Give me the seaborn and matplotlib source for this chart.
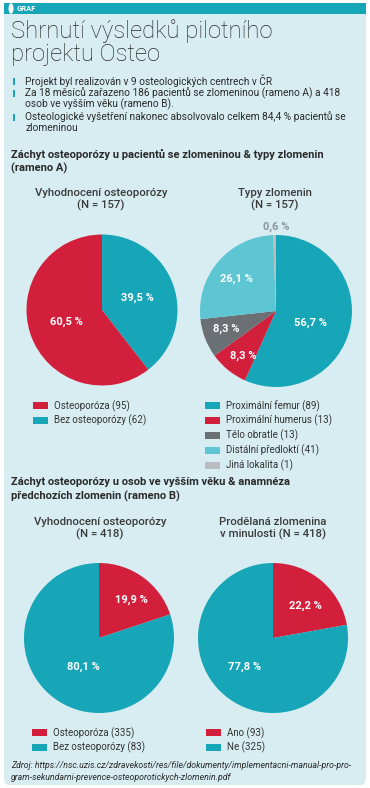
import seaborn as sns
import matplotlib.pyplot as plt
from matplotlib.patches import FancyBboxPatch, Rectangle, Circle
import matplotlib.font_manager as fm

# data
a1_labels = ['Bez osteoporózy (62)', 'Osteoporóza (95)']
a1_values = [39.5, 60.5]
a2_labels = ['Proximální femur (89)', 'Proximální humerus (13)', 'Tělo obratle (13)',
             'Distální předloktí (41)', 'Jiná lokalita (1)']
a2_values = [56.7, 8.3, 8.3, 26.1, 0.6]
b1_labels = ['Osteoporóza (335)', 'Bez osteoporózy (83)']
b1_values = [19.9, 80.1]
b2_labels = ['Ano (93)', 'Ne (325)']
b2_values = [22.2, 77.8]

RED = '#d21f3c'
TEAL = '#17a5b8'
GRAY = '#6b7075'
LTEAL = '#5ec5d3'
LGRAY = '#b9bdbf'
BG = '#d8edf1'
TXT = '#2a2a2a'

sns.set_theme(style='white')
names = {f.name for f in fm.fontManager.ttflist}
fam = [f for f in ['Liberation Sans Narrow', 'Roboto', 'DejaVu Sans'] if f in names]
plt.rcParams['font.family'] = fam

W, H = 370, 788
fig = plt.figure(figsize=(W / 100, H / 100), dpi=100)
fig.patch.set_facecolor('white')


def fx(x):
    return x / W


def fy(y):
    return 1 - y / H


def T(x, y, s, **kw):
    kw.setdefault('color', TXT)
    kw.setdefault('va', 'center')
    fig.text(fx(x), fy(y), s, **kw)


# card background and header bar
fig.patches.append(FancyBboxPatch((fx(4), fy(785)), fx(362), (781 - 3) / H,
                                  boxstyle='round,pad=0,rounding_size=0.012',
                                  transform=fig.transFigure, fc=BG, ec='none', zorder=-2))
fig.patches.append(Rectangle((fx(4), fy(14)), fx(362), 11 / H, transform=fig.transFigure,
                             fc=TEAL, ec='none', zorder=-1))
fig.patches.append(Circle((fx(11), fy(8.5)), 2.5 / W, transform=fig.transFigure,
                          fc='white', ec='none', zorder=-1))
T(17, 8.5, 'GRAF', color='white', fontsize=5.5, fontweight='bold')

T(11, 31, 'Shrnutí výsledků pilotního', fontsize=17.2, family=['Roboto', 'DejaVu Sans'],
  fontweight='light')
T(11, 55, 'projektu Osteo', fontsize=17.2, family=['Roboto', 'DejaVu Sans'], fontweight='light')

bullets = [(81, 'Projekt byl realizován v 9 osteologických centrech v ČR'),
           (93, 'Za 18 měsíců zařazeno 186 pacientů se zlomeninou (rameno A) a 418'),
           (104, 'osob ve vyšším věku (rameno B).'),
           (117, 'Osteologické vyšetření nakonec absolvovalo celkem 84,4 % pacientů se'),
           (128, 'zlomeninou')]
for i, (y, s) in enumerate(bullets):
    if i in (0, 1, 3):
        fig.patches.append(Rectangle((fx(13), fy(y + 3.5)), fx(2), 7 / H,
                                     transform=fig.transFigure, fc=TEAL, ec='none',
                                     zorder=-1))
    T(25, y, s, fontsize=7.3)

T(11, 154, 'Záchyt osteoporózy u pacientů se zlomeninou & typy zlomenin', fontsize=8.05,
  fontweight='bold')
T(11, 168, '(rameno A)', fontsize=8.05, fontweight='bold')
T(11, 482, 'Záchyt osteoporózy u osob ve vyšším věku & anamnéza', fontsize=8.05,
  fontweight='bold')
T(11, 496, 'předchozích zlomenin (rameno B)', fontsize=8.05, fontweight='bold')

for x, y, s in [(101, 193, 'Vyhodnocení osteoporózy'), (101, 205, '(N = 157)'),
                (275, 193, 'Typy zlomenin'), (275, 205, '(N = 157)'),
                (100, 522, 'Vyhodnocení osteoporózy'), (100, 534, '(N = 418)'),
                (273, 522, 'Prodělaná zlomenina'), (273, 534, 'v minulosti (N = 418)')]:
    T(x, y, s, fontsize=8.2, fontweight='medium', ha='center', color='#3a3a3a')


def pie_ax(cx, cy, r, values, colors):
    ax = fig.add_axes([fx(cx - r), fy(cy + r), 2 * r / W, 2 * r / H])
    wedges, _ = ax.pie(values, colors=colors, startangle=90, counterclock=False,
                       wedgeprops=dict(linewidth=0), radius=1)
    ax.set_xlim(-1, 1)
    ax.set_ylim(-1, 1)
    ax.set_aspect('equal')
    ax.axis('off')
    return wedges


def pct(v):
    return f'{v:.1f} %'.replace('.', ',')


lab = dict(fontsize=8, fontweight='bold', color='white', ha='center', zorder=5)

w1 = pie_ax(102, 310, 75.5, a1_values, [TEAL, RED])
T(137, 298, pct(a1_values[0]), **lab)
T(66, 322, pct(a1_values[1]), **lab)

w2 = pie_ax(276, 311, 76, a2_values, [TEAL, RED, GRAY, LTEAL, LGRAY])
T(311, 323, pct(a2_values[0]), **lab)
T(243, 356, pct(a2_values[1]), **lab)
T(226, 329, pct(a2_values[2]), **lab)
T(236, 279, pct(a2_values[3]), **lab)
T(276, 227, pct(a2_values[4]), fontsize=8, fontweight='bold', color='#8a9599', ha='center')

w3 = pie_ax(99, 638, 75, b1_values, [RED, TEAL])
T(131, 600, pct(b1_values[0]), **lab)
T(83, 667, pct(b1_values[1]), **lab)

w4 = pie_ax(273, 638, 75, b2_values, [RED, TEAL])
T(305, 606, pct(b2_values[0]), **lab)
T(245, 667, pct(b2_values[1]), **lab)

leg = dict(frameon=False, fontsize=7, handlelength=1.5, handleheight=0.8, handletextpad=0.7,
           labelspacing=0.35, loc='upper left', borderaxespad=0, borderpad=0,
           labelcolor='#333333')
fig.legend([w1[1], w1[0]], [a1_labels[1], a1_labels[0]],
           bbox_to_anchor=(fx(33), fy(400)), **leg)
fig.legend(w2, a2_labels, bbox_to_anchor=(fx(205), fy(400)), **leg)
fig.legend(w3, b1_labels, bbox_to_anchor=(fx(32), fy(727)), **leg)
fig.legend(w4, b2_labels, bbox_to_anchor=(fx(206), fy(727)), **leg)

T(11, 766, 'Zdroj: https://nsc.uzis.cz/zdravekosti/res/file/dokumenty/implementacni-manual-pro-pro-',
  fontsize=6.3, style='italic')
T(11, 777, 'gram-sekundarni-prevence-osteoporotickych-zlomenin.pdf', fontsize=6.3, style='italic')

fig.savefig('out.png', dpi=100, facecolor='white')
